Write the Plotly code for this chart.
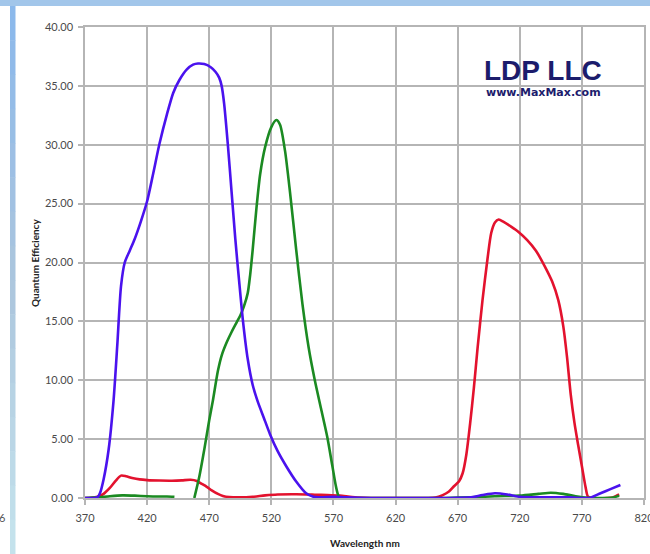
import plotly.graph_objects as go

# ---------------- data ----------------
wl_blue = [370, 375, 380, 382, 385, 389, 393, 396, 399, 402, 406, 410, 415, 420, 425,
           430, 436, 441, 446, 452, 457, 461, 466, 471, 475, 478, 480, 482, 485, 488,
           491, 494, 497, 501, 505, 509, 514, 519, 525, 532, 540, 548, 554, 560, 570,
           580, 600, 620, 640, 660, 680, 690, 700, 710, 720, 740, 760, 770, 776, 785,
           793, 801]
qe_blue = [0, 0, 0.05, 0.4, 1.6, 4.1, 8.3, 13.0, 18.0, 20.0, 21.0, 22.0, 23.5, 25.2, 27.6,
           30.1, 32.6, 34.4, 35.5, 36.4, 36.8, 36.9, 36.85, 36.6, 36.2, 35.7, 35.0, 33.5, 30.0, 26.0,
           22.0, 18.5, 15.2, 11.8, 9.6, 8.2, 6.8, 5.4, 4.0, 2.7, 1.4, 0.4, 0.1, 0.05, 0.1,
           0.05, 0, 0, 0, 0, 0.05, 0.25, 0.4, 0.3, 0.1, 0.05, 0.05, 0, 0, 0.4,
           0.75, 1.1]

wl_red = [370, 375, 380, 385, 390, 395, 399, 403, 408, 414, 420, 430, 440, 448, 455,
          460, 464, 468, 472, 477, 481, 486, 495, 505, 515, 525, 540, 555, 565, 575,
          585, 595, 610, 630, 645, 652, 658, 663, 667, 671, 674, 677, 680, 683, 686,
          690, 694, 697, 700, 703, 707, 713, 719, 726, 733, 740, 746, 751, 755, 758,
          761, 764, 767, 770, 773, 775, 780, 790, 795, 800]
qe_red = [0, 0.02, 0.1, 0.35, 0.85, 1.5, 1.9, 1.85, 1.7, 1.58, 1.52, 1.48, 1.47, 1.5, 1.55,
          1.45, 1.2, 0.95, 0.65, 0.35, 0.18, 0.08, 0.05, 0.1, 0.22, 0.3, 0.32, 0.28, 0.25, 0.2,
          0.08, 0.02, 0, 0, 0, 0.03, 0.25, 0.55, 1.0, 1.4, 2.1, 3.7, 6.3, 9.3, 12.7,
          16.8, 20.3, 22.5, 23.4, 23.65, 23.45, 23.05, 22.6, 21.9, 21.0, 19.7, 18.4, 16.8, 14.6, 12.0,
          8.8, 6.4, 4.5, 2.7, 0.9, 0.1, 0, 0, 0.05, 0.3]

wl_green = [370, 380, 390, 400, 410, 420, 430, 436, 442, None,
            458, 462, 466, 470, 473, 477, 480, 484, 488, 492, 495, 498, 501, 503, 505,
            508, 511, 515, 520, 524, 527, 531, 535, 540, 545, 550, 555, 560, 565, 569,
            572, 574, 576, 590, 620, 660, 680, 700, 720, 735, 745, 755,
            765, 775, 785, 795, 800]
qe_green = [0, 0.05, 0.15, 0.22, 0.2, 0.15, 0.13, 0.13, 0.1, None,
            0, 1.8, 4.1, 6.6, 8.3, 10.8, 12.1, 13.2, 14.1, 14.9, 15.5, 16.3, 17.4, 19.0, 21.1,
            24.6, 27.5, 29.8, 31.5, 32.1, 31.7, 29.5, 26.0, 21.1, 16.5, 12.8, 10.0, 7.6, 5.2, 2.8,
            1.0, 0.2, 0, 0, 0, 0, 0.05, 0.15, 0.2, 0.35, 0.45, 0.35,
            0.15, 0.02, 0, 0.05, 0.2]

x_ticks = [370, 420, 470, 520, 570, 620, 670, 720, 770, 820]
y_ticks = [0, 5, 10, 15, 20, 25, 30, 35, 40]

# ---------------- geometry helpers (pixels -> paper) ----------------
W, H = 650, 554
L, R, T, B = 85, 644, 27, 498


def px(xp):
    return (xp - L) / (R - L)


def py(yp):
    return (B - yp) / (B - T)


fig = go.Figure()
for wl, qe, col in [(wl_red, qe_red, "#e3122e"),
                    (wl_green, qe_green, "#1b8a22"),
                    (wl_blue, qe_blue, "#4a12ee")]:
    fig.add_trace(go.Scatter(x=wl, y=qe, mode="lines",
                             line=dict(color=col, width=2.6, shape="spline", smoothing=0.7),
                             connectgaps=False, hoverinfo="skip", showlegend=False))

grid = "#b5b5b5"
tickfont = dict(family="Lato, Open Sans, sans-serif", size=11, color="#4a4a4a")

fig.update_xaxes(range=[370, 820], tickvals=x_ticks, ticktext=[str(v) for v in x_ticks],
                 showgrid=True, gridcolor=grid, gridwidth=1.5,
                 showline=True, linecolor=grid, linewidth=1.5, mirror=True,
                 ticks="outside", ticklen=5, tickcolor=grid, tickwidth=1.5,
                 tickfont=tickfont, zeroline=False, ticklabelstandoff=4,
                 ticklabeloverflow="allow", automargin=False)
fig.update_yaxes(range=[0, 40], tickvals=y_ticks, ticktext=["%.2f" % v for v in y_ticks],
                 showgrid=True, gridcolor=grid, gridwidth=1.5,
                 showline=True, linecolor=grid, linewidth=1.5, mirror=True,
                 ticks="outside", ticklen=5, tickcolor=grid, tickwidth=1.5,
                 tickfont=tickfont, zeroline=False, ticklabelstandoff=3, automargin=False)

shapes = []
# top blue strip
shapes.append(dict(type="rect", xref="paper", yref="paper", layer="above",
                   x0=px(0), x1=px(W), y0=py(6), y1=py(-2),
                   fillcolor="#a2c6ea", line=dict(width=0)))
# left gradient strip
top_c = (140, 185, 235)
mid_c = (172, 198, 222)
bot_c = (196, 226, 236)
n = 16
for i in range(n):
    t = i / (n - 1)
    if t < 0.5:
        a, b, u = top_c, mid_c, t / 0.5
    else:
        a, b, u = mid_c, bot_c, (t - 0.5) / 0.5
    c = tuple(int(a[k] + (b[k] - a[k]) * u) for k in range(3))
    y0 = 6 + (H - 6) * i / n
    y1 = 6 + (H - 6) * (i + 1) / n
    shapes.append(dict(type="rect", xref="paper", yref="paper", layer="above",
                       x0=px(10), x1=px(15.5), y0=py(y1 + 0.5), y1=py(y0),
                       fillcolor="rgb(%d,%d,%d)" % c, line=dict(width=0)))
# white box behind the logo
shapes.append(dict(type="rect", xref="paper", yref="paper", layer="between",
                   x0=px(473), x1=px(612), y0=py(146), y1=py(28.5),
                   fillcolor="white", line=dict(width=0)))

annotations = [
    dict(text="<b>LDP LLC</b>", xref="paper", yref="paper", x=px(543), y=py(70),
         showarrow=False, font=dict(family="Liberation Sans, Arial", size=28, color="#1c1c6c"),
         xanchor="center", yanchor="middle"),
    dict(text="<b>www.MaxMax.com</b>", xref="paper", yref="paper", x=px(543), y=py(93),
         showarrow=False, font=dict(family="DejaVu Sans", size=11, color="#1c1c6c"),
         xanchor="center", yanchor="middle"),
    dict(text="<b>Wavelength nm</b>", xref="paper", yref="paper", x=px(365), y=py(543),
         showarrow=False, font=dict(family="Lato, Open Sans, sans-serif", size=10, color="#222222"),
         xanchor="center", yanchor="middle"),
    dict(text="<b>Quantum Efficiency</b>", xref="paper", yref="paper", x=px(35), y=py(263),
         showarrow=False, textangle=-90,
         font=dict(family="Lato, Open Sans, sans-serif", size=10, color="#222222"),
         xanchor="center", yanchor="middle"),
    dict(text="6", xref="paper", yref="paper", x=px(7), y=py(517),
         showarrow=False, font=dict(family="Lato, Open Sans, sans-serif", size=11, color="#555555"),
         xanchor="right", yanchor="middle"),
]

fig.update_layout(width=W, height=H, margin=dict(l=L, r=W - R, t=T, b=H - B),
                  paper_bgcolor="white", plot_bgcolor="white",
                  shapes=shapes, annotations=annotations, showlegend=False)

fig.write_html("out.html", config={"displayModeBar": False},
               post_script="document.body.style.margin='0';document.body.style.overflow='hidden';")
